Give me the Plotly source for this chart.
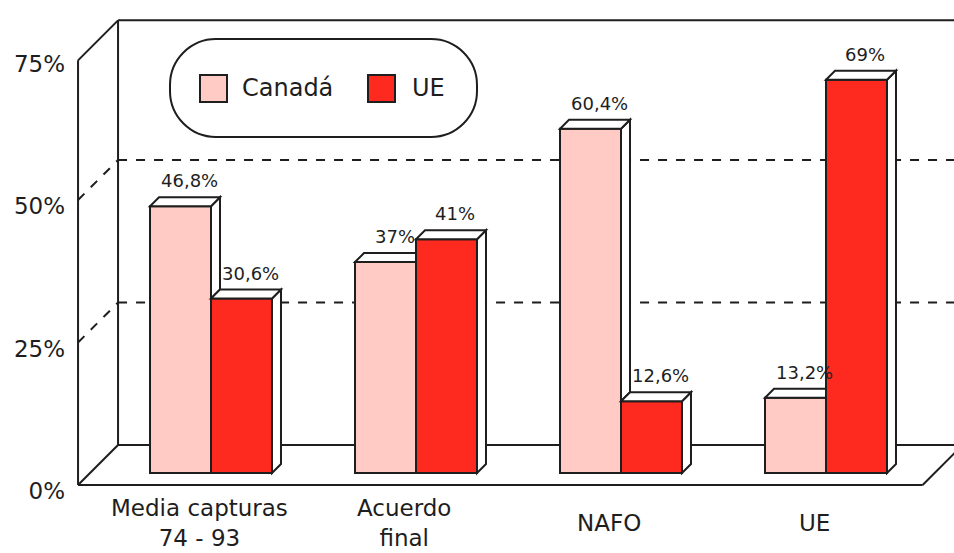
import plotly.graph_objects as go

# ---------------- data ----------------
categories = ["Media capturas<br>74 - 93", "Acuerdo<br>final", "NAFO", "UE"]
canada = [46.8, 37.0, 60.4, 13.2]
ue = [30.6, 41.0, 12.6, 69.0]
canada_labels = ["46,8%", "37%", "60,4%", "13,2%"]
ue_labels = ["30,6%", "41%", "12,6%", "69%"]
series_names = ["Canadá", "UE"]
y_ticks = [0, 25, 50, 75]
y_tick_labels = ["0%", "25%", "50%", "75%"]

# ---------------- style / geometry ----------------
W, H = 954, 553
ML, MR, MT, MB = 74, 0, 6, 58
PX_X = 205.0      # px per category unit
PX_Y = 5.7        # px per percentage point
CX0 = 211.0       # page px of first category centre
Y0 = 473.0        # page py of value 0
FONT = "DejaVu Sans"
PINK = "#FFCBC4"
RED = "#FF2A1F"
INK = "#1e1e1e"

def dx(p):
    return p / PX_X

def dy(p):
    return p / PX_Y

x_range = [(ML - CX0) / PX_X, (W - MR - CX0) / PX_X]
y_range = [(Y0 - (H - MB)) / PX_Y, (Y0 - MT) / PX_Y]
plot_w = W - ML - MR
plot_h = H - MT - MB

def to_paper(px, py):
    return (px - ML) / plot_w, ((H - MB) - py) / plot_h

bw = 0.2975            # bar width (category units)
ddx, ddy = dx(9), dy(9)  # bar depth
fx, fy = dx(12), dy(12)  # front plane offset
bx, by = dx(28), dy(28)  # back plane offset
xl, xr = -0.59, 3.53     # frame extents (bar plane)
wall_top = 74.5

xs = list(range(len(categories)))

fig = go.Figure()
fig.add_trace(go.Bar(x=xs, y=canada, width=bw, offset=-bw, name=series_names[0],
                     marker=dict(color=PINK, line=dict(color=INK, width=2)),
                     showlegend=False, hoverinfo="y"))
fig.add_trace(go.Bar(x=xs, y=ue, width=bw, offset=0, name=series_names[1],
                     marker=dict(color=RED, line=dict(color=INK, width=2)),
                     showlegend=False, hoverinfo="y"))

shapes = []

def line(x0, y0, x1, y1, dash="solid", layer="below", w=2):
    shapes.append(dict(type="line", xref="x", yref="y", x0=x0, y0=y0, x1=x1, y1=y1,
                       line=dict(color=INK, width=w, dash=dash), layer=layer))

def poly(pts):
    d = "M " + " L ".join(f"{a:.5f},{b:.5f}" for a, b in pts) + " Z"
    shapes.append(dict(type="path", xref="x", yref="y", path=d, fillcolor="white",
                       line=dict(color=INK, width=2), layer="above"))

# frame (3D box)
xmax_line = x_range[1] + 0.2
line(xl - fx, -fy, xl - fx, wall_top - fy)
line(xl - fx, wall_top - fy, xl + bx, wall_top + by)
line(xl + bx, by, xl + bx, wall_top + by)
line(xl + bx, wall_top + by, xmax_line, wall_top + by)
line(xl - fx, -fy, xl + bx, by)
line(xl - fx, -fy, xr - fx, -fy)
line(xl + bx, by, xr + bx, by)
line(xr - fx, -fy, xr + bx, by)
for g in y_ticks[1:3]:
    line(xl - fx, g - fy, xl + bx, g + by, dash="dash")
    line(xl + bx, g + by, xmax_line, g + by, dash="dash")

# bar depth faces
for i, c in enumerate(xs):
    x0, x1, x2 = c - bw, c, c + bw
    v, u = canada[i], ue[i]
    if v > u:
        poly([(x1, u), (x1, v), (x1 + ddx, v + ddy), (x1 + ddx, u + ddy)])
        poly([(x0, v), (x1, v), (x1 + ddx, v + ddy), (x0 + ddx, v + ddy)])
    else:
        poly([(x0, v), (x1, v), (x1, v + ddy), (x0 + ddx, v + ddy)])
    poly([(x2, 0), (x2 + ddx, ddy), (x2 + ddx, u + ddy), (x2, u)])
    poly([(x1, u), (x2, u), (x2 + ddx, u + ddy), (x1 + ddx, u + ddy)])

# legend box (rounded)
def rrect(x0, y0, x1, y1, r):
    k = 0.5523 * r
    pts = [
        ("M", [(x0 + r, y0)]),
        ("L", [(x1 - r, y0)]),
        ("C", [(x1 - r + k, y0), (x1, y0 + r - k), (x1, y0 + r)]),
        ("L", [(x1, y1 - r)]),
        ("C", [(x1, y1 - r + k), (x1 - r + k, y1), (x1 - r, y1)]),
        ("L", [(x0 + r, y1)]),
        ("C", [(x0 + r - k, y1), (x0, y1 - r + k), (x0, y1 - r)]),
        ("L", [(x0, y0 + r)]),
        ("C", [(x0, y0 + r - k), (x0 + r - k, y0), (x0 + r, y0)]),
    ]
    out = []
    for cmd, ps in pts:
        coords = " ".join("%.5f,%.5f" % to_paper(a, b) for a, b in ps)
        out.append(cmd + " " + coords)
    return " ".join(out) + " Z"

shapes.append(dict(type="path", xref="paper", yref="paper", path=rrect(170, 39, 477, 137, 46),
                   fillcolor="white", line=dict(color=INK, width=2), layer="above"))

annotations = []
legend_items = [(200, PINK, series_names[0], 240), (368, RED, series_names[1], 410)]
for sx, col, name, tx in legend_items:
    a0, b0 = to_paper(sx, 102)
    a1, b1 = to_paper(sx + 27, 75)
    shapes.append(dict(type="rect", xref="paper", yref="paper", x0=a0, y0=b0, x1=a1, y1=b1,
                       fillcolor=col, line=dict(color=INK, width=2), layer="above"))
    ta, tb = to_paper(tx, 88)
    annotations.append(dict(x=ta, y=tb, xref="paper", yref="paper", text=name,
                            xanchor="left", yanchor="middle", showarrow=False,
                            font=dict(family=FONT, size=24, color=INK)))

# data labels
for i, c in enumerate(xs):
    annotations.append(dict(x=c - bw / 2, y=canada[i] + ddy, xref="x", yref="y",
                            text=canada_labels[i], showarrow=False, xshift=9, yshift=4,
                            yanchor="bottom", font=dict(family=FONT, size=18, color=INK)))
    annotations.append(dict(x=c + bw / 2, y=ue[i] + ddy, xref="x", yref="y",
                            text=ue_labels[i], showarrow=False, xshift=9, yshift=4,
                            yanchor="bottom", font=dict(family=FONT, size=18, color=INK)))

# category labels
cat_y = to_paper(0, 523)[1]
for i, c in enumerate(xs):
    annotations.append(dict(x=c, y=cat_y, xref="x", yref="paper", text=categories[i],
                            showarrow=False, xshift=-12, yanchor="middle", align="center",
                            font=dict(family=FONT, size=23, color=INK)))

fig.update_layout(
    width=W, height=H,
    margin=dict(l=ML, r=MR, t=MT, b=MB, pad=0),
    paper_bgcolor="white", plot_bgcolor="white",
    barmode="overlay",
    showlegend=False,
    shapes=shapes,
    annotations=annotations,
    font=dict(family=FONT, color=INK),
    xaxis=dict(range=x_range, showgrid=False, zeroline=False, showline=False,
               showticklabels=False, ticks="", fixedrange=True),
    yaxis=dict(range=y_range, showgrid=False, zeroline=False, showline=False,
               tickvals=y_ticks, ticktext=y_tick_labels, ticks="",
               ticklabelshift=18, ticklabelstandoff=8,
               tickfont=dict(family=FONT, size=23, color=INK), fixedrange=True),
)

fig.write_html("out.html")
